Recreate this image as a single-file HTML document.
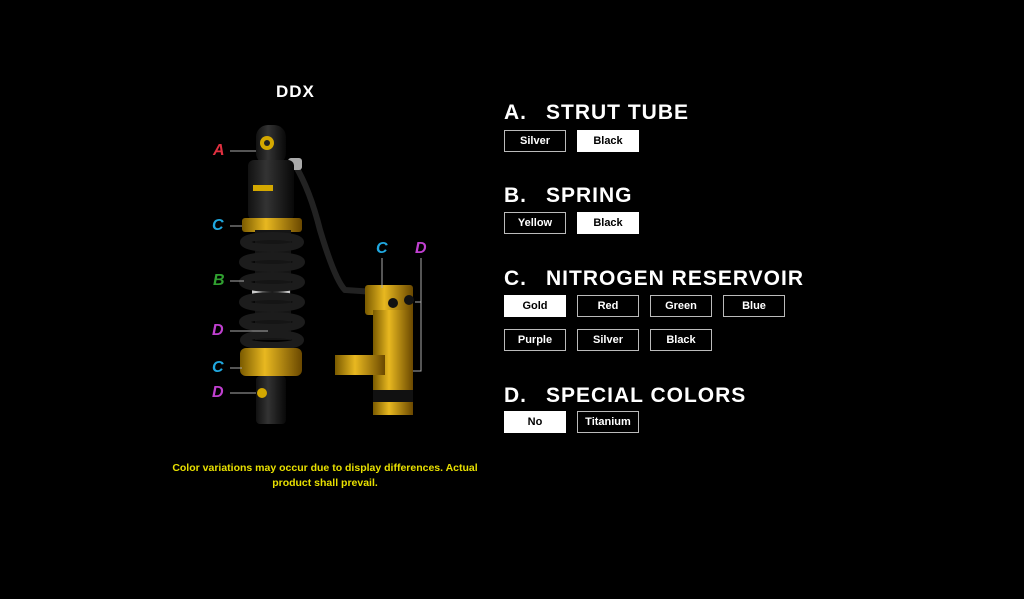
<!DOCTYPE html>
<html><head><style>
body{margin:0;width:1024px;height:599px;background:#000;overflow:hidden;font-family:"Liberation Sans",sans-serif;position:relative}
.t{position:absolute;color:#fff;font-weight:bold;font-size:21px;letter-spacing:1px;white-space:nowrap}
.t span{position:absolute;left:42px}
.b{position:absolute;width:60px;height:20px;border:1px solid #bbb;color:#fff;font-size:11px;font-weight:bold;text-align:center;line-height:20px;box-sizing:content-box}
.b.s{background:#fff;color:#000;border-color:#fff}
.lab{position:absolute;font-style:italic;font-weight:bold;font-size:16px}
.note{position:absolute;left:157px;top:461px;width:336px;text-align:center;color:#e8e000;font-size:10.5px;font-weight:bold;line-height:15px}
</style></head><body>
<div class="t" style="left:276px;top:82px;font-size:17px">DDX</div>

<svg style="position:absolute;left:0;top:0" width="1024" height="599">
<defs>
<linearGradient id="g" x1="0" x2="1"><stop offset="0" stop-color="#7a5a00"/><stop offset=".4" stop-color="#e8b820"/><stop offset="1" stop-color="#6a4800"/></linearGradient>
<linearGradient id="k" x1="0" x2="1"><stop offset="0" stop-color="#111"/><stop offset=".4" stop-color="#333"/><stop offset="1" stop-color="#080808"/></linearGradient>
</defs>
<path d="M295 165 Q310 190 320 230 Q335 280 345 290 L375 292" stroke="#222" stroke-width="6" fill="none"/>
<rect x="288" y="158" width="14" height="12" fill="#aaa" rx="3"/>
<rect x="256" y="125" width="30" height="40" rx="12" fill="url(#k)"/>
<circle cx="267" cy="143" r="7" fill="#d4a800"/><circle cx="267" cy="143" r="3" fill="#222"/>
<rect x="248" y="160" width="46" height="60" rx="6" fill="url(#k)"/>
<rect x="253" y="185" width="20" height="6" fill="#d4a800"/>
<rect x="242" y="218" width="60" height="14" rx="3" fill="url(#g)"/>
<rect x="255" y="230" width="36" height="110" fill="#151515"/>
<rect x="252" y="285" width="38" height="10" fill="#ccc"/><rect x="252" y="287" width="38" height="3" fill="#c00"/>
<g fill="none" stroke="#1c1c1c" stroke-width="8">
<ellipse cx="272" cy="242" rx="28" ry="6"/><ellipse cx="272" cy="262" rx="29" ry="6"/><ellipse cx="272" cy="282" rx="29" ry="6"/><ellipse cx="272" cy="302" rx="29" ry="6"/><ellipse cx="272" cy="322" rx="29" ry="6"/><ellipse cx="272" cy="340" rx="28" ry="6"/></g>
<rect x="240" y="348" width="62" height="28" rx="6" fill="url(#g)"/>
<rect x="256" y="376" width="30" height="48" rx="4" fill="url(#k)"/>
<circle cx="262" cy="393" r="5" fill="#d4a800"/>
<rect x="365" y="285" width="48" height="30" rx="3" fill="url(#g)"/>
<rect x="373" y="310" width="40" height="105" fill="url(#g)"/>
<rect x="335" y="355" width="50" height="20" fill="url(#g)"/>
<circle cx="393" cy="303" r="5" fill="#111"/><circle cx="409" cy="300" r="5" fill="#111"/>
<rect x="373" y="390" width="40" height="12" fill="#111"/>
<g stroke="#aaa" stroke-width="1" fill="none">
<path d="M230 151 H256"/><path d="M230 226 H242"/><path d="M230 281 H244"/><path d="M230 331 H268"/><path d="M230 368 H242"/><path d="M230 393 H256"/>
<path d="M382 258 V288"/><path d="M421 258 V371 H413 M421 302 H415"/>
</g>
</svg>
<div class="lab" style="left:213px;top:142px;color:#e03040">A</div>
<div class="lab" style="left:212px;top:217px;color:#20a8e0">C</div>
<div class="lab" style="left:213px;top:272px;color:#30a030">B</div>
<div class="lab" style="left:212px;top:322px;color:#c040d0">D</div>
<div class="lab" style="left:212px;top:359px;color:#20a8e0">C</div>
<div class="lab" style="left:212px;top:384px;color:#c040d0">D</div>
<div class="lab" style="left:376px;top:240px;color:#20a8e0">C</div>
<div class="lab" style="left:415px;top:240px;color:#c040d0">D</div>
<div class="note">Color variations may occur due to display differences. Actual<br>product shall prevail.</div>

<div class="t" style="left:504px;top:101px">A.<span>STRUT TUBE</span></div>
<div class="b" style="left:504px;top:130px">Silver</div><div class="b s" style="left:577px;top:130px">Black</div>
<div class="t" style="left:504px;top:184px">B.<span>SPRING</span></div>
<div class="b" style="left:504px;top:212px">Yellow</div><div class="b s" style="left:577px;top:212px">Black</div>
<div class="t" style="left:504px;top:267px">C.<span>NITROGEN RESERVOIR</span></div>
<div class="b s" style="left:504px;top:295px">Gold</div><div class="b" style="left:577px;top:295px">Red</div><div class="b" style="left:650px;top:295px">Green</div><div class="b" style="left:723px;top:295px">Blue</div>
<div class="b" style="left:504px;top:329px">Purple</div><div class="b" style="left:577px;top:329px">Silver</div><div class="b" style="left:650px;top:329px">Black</div>
<div class="t" style="left:504px;top:384px">D.<span>SPECIAL COLORS</span></div>
<div class="b s" style="left:504px;top:411px">No</div><div class="b" style="left:577px;top:411px">Titanium</div>
</body></html>
